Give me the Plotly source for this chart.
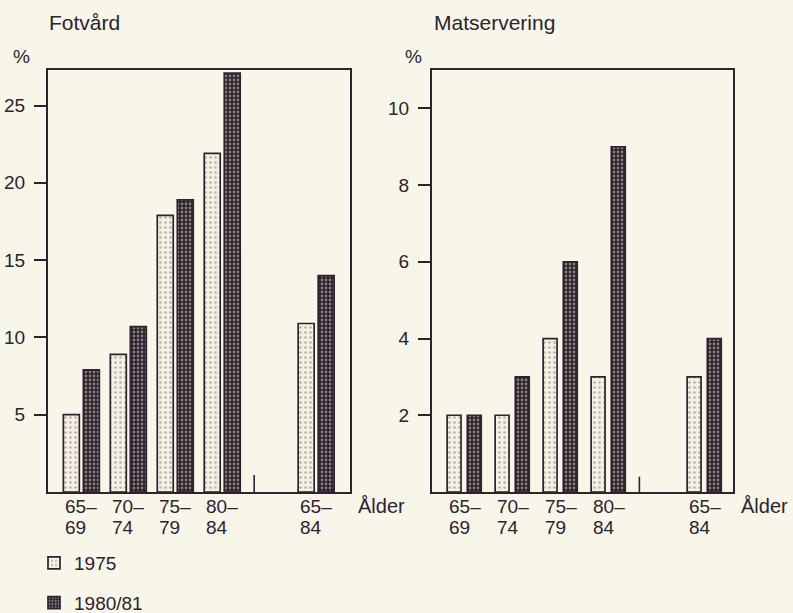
import plotly.graph_objects as go
from plotly.subplots import make_subplots

# ---- data ----
categories = ["65–69", "70–74", "75–79", "80–84", "65–84"]
series_names = ["1975", "1980/81"]
fotvard_1975 = [5.0, 8.9, 17.9, 21.9, 10.9]
fotvard_1980 = [7.9, 10.7, 18.9, 27.1, 14.0]
mat_1975 = [2, 2, 4, 3, 3]
mat_1980 = [2, 3, 6, 9, 4]
panel_titles = ["Fotvård", "Matservering"]
fot_ticks = [5, 10, 15, 20, 25]
mat_ticks = [2, 4, 6, 8, 10]
axis_label = "Ålder"
unit_label = "%"

# positions: four age groups, a gap, then the total group
xpos = list(range(len(categories) - 1)) + [len(categories)]

INK = "#2b2430"
BG = "#f8f5e9"
FONT = "Liberation Sans"
W, H = 793, 613

pat_light = dict(shape=".", fgcolor="#7a6a70", bgcolor="#f4f0e2", size=5, solidity=0.2)
pat_dark = dict(shape=".", fgcolor="#e6ded2", bgcolor="#2a1f28", size=4, solidity=0.4)


def px_x(px):
    return px / W


def px_y(py):
    return 1 - py / H


fig = make_subplots(rows=1, cols=2)

panels = [
    (fotvard_1975, fotvard_1980, 1, (-0.71, 5.71), (0, 27.3), fot_ticks, 0.34, -0.383, 0.043, 3.68, 1.1),
    (mat_1975, mat_1980, 2, (-0.67, 5.6), (0, 11.0), mat_ticks, 0.29, -0.355, 0.065, 3.65, 0.4),
]

for (v75, v80, col, xr, yr, tv, bw, off1, off2, sep, seph) in panels:
    fig.add_trace(go.Bar(x=xpos, y=v75, name=series_names[0], width=bw, offset=off1,
                         marker=dict(color="#f4f0e2", pattern=pat_light,
                                     line=dict(color=INK, width=1.7)),
                         showlegend=(col == 1), legendgroup="a"), row=1, col=col)
    fig.add_trace(go.Bar(x=xpos, y=v80, name=series_names[1], width=bw, offset=off2,
                         marker=dict(color="#2a1f28", pattern=pat_dark,
                                     line=dict(color=INK, width=1.7)),
                         showlegend=(col == 1), legendgroup="b"), row=1, col=col)
    fig.update_xaxes(range=list(xr), showticklabels=False, ticks="", showgrid=False,
                     zeroline=False, showline=True, mirror=True, linecolor=INK, linewidth=2,
                     automargin=False, row=1, col=col)
    fig.update_yaxes(range=list(yr), tickvals=tv, ticks="outside", ticklen=12, tickwidth=2,
                     tickcolor=INK, showgrid=False, zeroline=False, showline=True, mirror=True,
                     linecolor=INK, linewidth=2, tickfont=dict(size=19, color=INK, family=FONT),
                     ticklabelstandoff=5, automargin=False,
                     domain=[px_y(492), px_y(70)], row=1, col=col)
    xref = "x" if col == 1 else "x2"
    yref = "y" if col == 1 else "y2"
    fig.add_shape(type="line", xref=xref, yref=yref, x0=sep, x1=sep, y0=0, y1=seph,
                  line=dict(color=INK, width=1.6), layer="above")
    # category labels (two lines, left aligned at the first bar)
    for i, cat in enumerate(categories):
        a, b = cat.split("–")
        fig.add_annotation(x=xpos[i] + off1, xref=xref, y=px_y(507), yref="paper",
                           text=a + "–", showarrow=False, xanchor="left", yanchor="middle",
                           font=dict(size=19, color=INK, family=FONT))
        fig.add_annotation(x=xpos[i] + off1, xref=xref, y=px_y(527), yref="paper",
                           text=b, showarrow=False, xanchor="left", yanchor="middle",
                           font=dict(size=19, color=INK, family=FONT))

fig.update_xaxes(domain=[px_x(48), px_x(349.5)], row=1, col=1)
fig.update_xaxes(domain=[px_x(432), px_x(733)], row=1, col=2)

# titles, % labels, Ålder labels
for lx, t in zip((47, 432), panel_titles):
    fig.add_annotation(x=px_x(lx), y=px_y(23), xref="paper", yref="paper", text=t,
                       showarrow=False, xanchor="left", yanchor="middle",
                       font=dict(size=21, color=INK, family=FONT))
for cx in (21, 414):
    fig.add_annotation(x=px_x(cx), y=px_y(57), xref="paper", yref="paper", text=unit_label,
                       showarrow=False, xanchor="center", yanchor="middle",
                       font=dict(size=19, color=INK, family=FONT))
for lx in (356, 739):
    fig.add_annotation(x=px_x(lx), y=px_y(506), xref="paper", yref="paper", text=axis_label,
                       showarrow=False, xanchor="left", yanchor="middle",
                       font=dict(size=20, color=INK, family=FONT))

fig.update_layout(
    width=W, height=H,
    margin=dict(l=0, r=0, t=0, b=0, autoexpand=False),
    paper_bgcolor=BG, plot_bgcolor=BG,
    font=dict(family=FONT, color=INK),
    barmode="overlay",
    legend=dict(x=px_x(34), y=px_y(544), xanchor="left", yanchor="top",
                orientation="v", font=dict(size=19, color=INK, family=FONT),
                bgcolor="rgba(0,0,0,0)", tracegroupgap=12, traceorder="grouped"),
)

fig.write_html(
    "out.html",
    config={"displayModeBar": False},
    post_script="document.body.style.margin='0';document.body.style.background='" + BG + "';",
)
